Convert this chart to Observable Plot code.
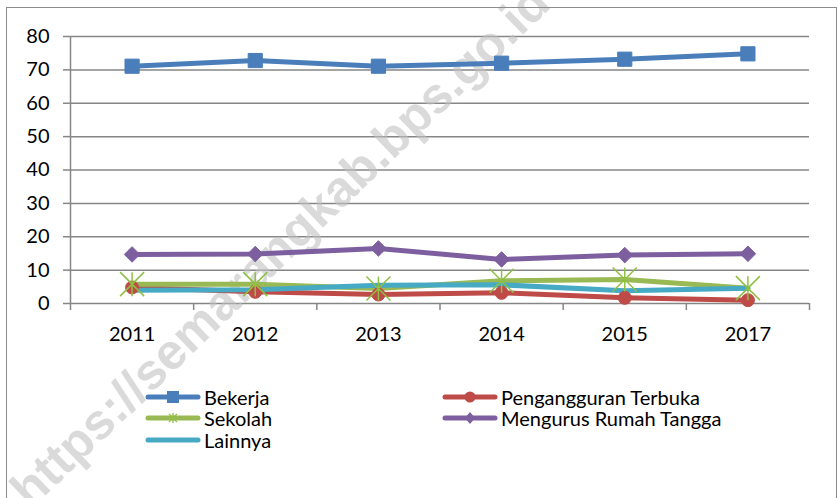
<!DOCTYPE html>
<html><head><meta charset="utf-8">
<script src="https://cdn.jsdelivr.net/npm/d3@7"></script>
<script src="https://cdn.jsdelivr.net/npm/@observablehq/plot@0.6"></script>
<style>
body{margin:0;background:#fff;}
#wrap{position:relative;width:838px;height:498px;overflow:hidden;font-family:Lato,"Noto Sans",sans-serif;}
#chart{position:absolute;left:0;top:0;}
#border{position:absolute;left:6px;top:7px;width:829px;height:520px;border:1px solid #8c8c8c;pointer-events:none;}
.lg{position:absolute;height:22px;display:flex;align-items:center;font-size:20px;color:#000;white-space:nowrap;}
.lg svg{margin-right:3px;}
</style></head><body>
<div id="wrap"><div id="chart"></div><div id="border"></div><div id="legend"></div></div>
<script>
const years = ["2011","2012","2013","2014","2015","2017"];
const bekerja      = [71.1, 72.8, 71.1, 72.0, 73.2, 74.8];
const pengangguran = [4.8, 3.5, 2.7, 3.2, 1.7, 1.0];
const sekolah      = [5.8, 5.8, 4.5, 6.8, 7.2, 4.6];
const mengurus     = [14.7, 14.8, 16.5, 13.2, 14.5, 14.9];
const lainnya      = [4.0, 4.1, 5.5, 5.6, 3.8, 4.6];
const seriesNames  = ["Bekerja","Pengangguran Terbuka","Sekolah","Mengurus Rumah Tangga","Lainnya"];
const yTicks = [0,10,20,30,40,50,60,70,80];
const watermark = "https://semarangkab.bps.go.id";

const colors = {
  "Bekerja":"#4a7ebb",
  "Pengangguran Terbuka":"#be4b48",
  "Sekolah":"#98b954",
  "Mengurus Rumah Tangga":"#7d5fa0",
  "Lainnya":"#46aac5"
};
const gridColor = "#868686";

const rows = arr => years.map((y,i)=>({i, year:y, v:arr[i]}));
const idx = years.map((_,i)=>i);
const bounds = years.map((_,i)=>i-0.5).concat([years.length-0.5]);

const starSymbol = {
  draw(ctx, size){
    const r = Math.sqrt(size/Math.PI);
    ctx.moveTo(-r,-r); ctx.lineTo(r,r);
    ctx.moveTo(-r,r); ctx.lineTo(r,-r);
    ctx.moveTo(0,-r); ctx.lineTo(0,r);
  }
};

const lineOpts = (c)=>({x:"i", y:"v", stroke:c, strokeWidth:5, strokeLinejoin:"round", strokeLinecap:"round"});

const chart = Plot.plot({
  width:838, height:498,
  marginLeft:70, marginRight:29, marginTop:36, marginBottom:195,
  style:{fontFamily:"Lato, 'Noto Sans', sans-serif", fontSize:"20px", color:"#000", background:"transparent"},
  x:{type:"linear", domain:[-0.5, years.length-0.5]},
  y:{domain:[0,80]},
  marks:[
    Plot.gridY(yTicks, {stroke:gridColor, strokeOpacity:1, strokeWidth:1.5}),
    Plot.ruleX([bounds[0]], {stroke:gridColor, strokeWidth:1.5}),
    Plot.axisY({ticks:yTicks, tickSize:7, tickPadding:14, label:null, stroke:gridColor, strokeWidth:1.5, fill:"#000", fontSize:20}),
    Plot.axisX({ticks:bounds, tickSize:7, tickFormat:()=>"", label:null, stroke:gridColor, strokeWidth:1.5}),
    Plot.axisX({ticks:idx, tickSize:0, tickPadding:23, tickFormat:i=>years[i], label:null, fill:"#000", fontSize:20}),
    Plot.text([watermark], {frameAnchor:"top-left", textAnchor:"middle", lineAnchor:"middle", dx:210, dy:210, rotate:-44, text:d=>d, fontSize:50, fontWeight:"bold", fontFamily:"Liberation Sans, Arial, sans-serif", fill:"#c2c2c2", fillOpacity:0.6}),
    Plot.line(rows(bekerja), lineOpts(colors["Bekerja"])),
    Plot.line(rows(pengangguran), lineOpts(colors["Pengangguran Terbuka"])),
    Plot.line(rows(sekolah), lineOpts(colors["Sekolah"])),
    Plot.line(rows(mengurus), lineOpts(colors["Mengurus Rumah Tangga"])),
    Plot.line(rows(lainnya), lineOpts(colors["Lainnya"])),
    Plot.dot(rows(bekerja), {x:"i", y:"v", symbol:"square", r:8, fill:colors["Bekerja"], stroke:colors["Bekerja"], strokeWidth:1}),
    Plot.dot(rows(pengangguran), {x:"i", y:"v", symbol:"circle", r:6.5, fill:colors["Pengangguran Terbuka"], stroke:colors["Pengangguran Terbuka"], strokeWidth:1}),
    Plot.dot(rows(sekolah), {x:"i", y:"v", symbol:starSymbol, r:12, fill:"none", stroke:"#8fc043", strokeWidth:1.5}),
    Plot.dot(rows(mengurus), {x:"i", y:"v", symbol:"diamond2", r:7, fill:colors["Mengurus Rumah Tangga"], stroke:colors["Mengurus Rumah Tangga"], strokeWidth:1})
  ]
});
document.getElementById("chart").appendChild(chart);

// legend
const legendItems = [
  {name:seriesNames[0], col:0, row:0, marker:"square"},
  {name:seriesNames[1], col:1, row:0, marker:"circle"},
  {name:seriesNames[2], col:0, row:1, marker:"star"},
  {name:seriesNames[3], col:1, row:1, marker:"diamond"},
  {name:seriesNames[4], col:0, row:2, marker:null}
];
const colX = [145, 442];
const rowY = [397, 418, 440];
const lg = document.getElementById("legend");
for (const it of legendItems){
  const c = colors[it.name];
  const el = document.createElement("div");
  el.className = "lg";
  el.style.left = colX[it.col]+"px";
  el.style.top = (rowY[it.row]-11)+"px";
  let m = "";
  if (it.marker==="square") m = `<rect x="22" y="1" width="12" height="12" fill="${c}"/>`;
  if (it.marker==="circle") m = `<circle cx="28" cy="7" r="5.5" fill="${c}"/>`;
  if (it.marker==="star") m = `<path d="M24,3L32,11M24,11L32,3M28,2L28,12" stroke="#8fc043" stroke-width="1.3" fill="none"/>`;
  if (it.marker==="diamond") m = `<path d="M28,1L33,7L28,13L23,7Z" fill="${c}"/>`;
  el.innerHTML = `<svg width="56" height="14"><line x1="3" y1="7" x2="53" y2="7" stroke="${c}" stroke-width="5" stroke-linecap="round"/>${m}</svg><span>${it.name}</span>`;
  lg.appendChild(el);
}
</script>
</body></html>
